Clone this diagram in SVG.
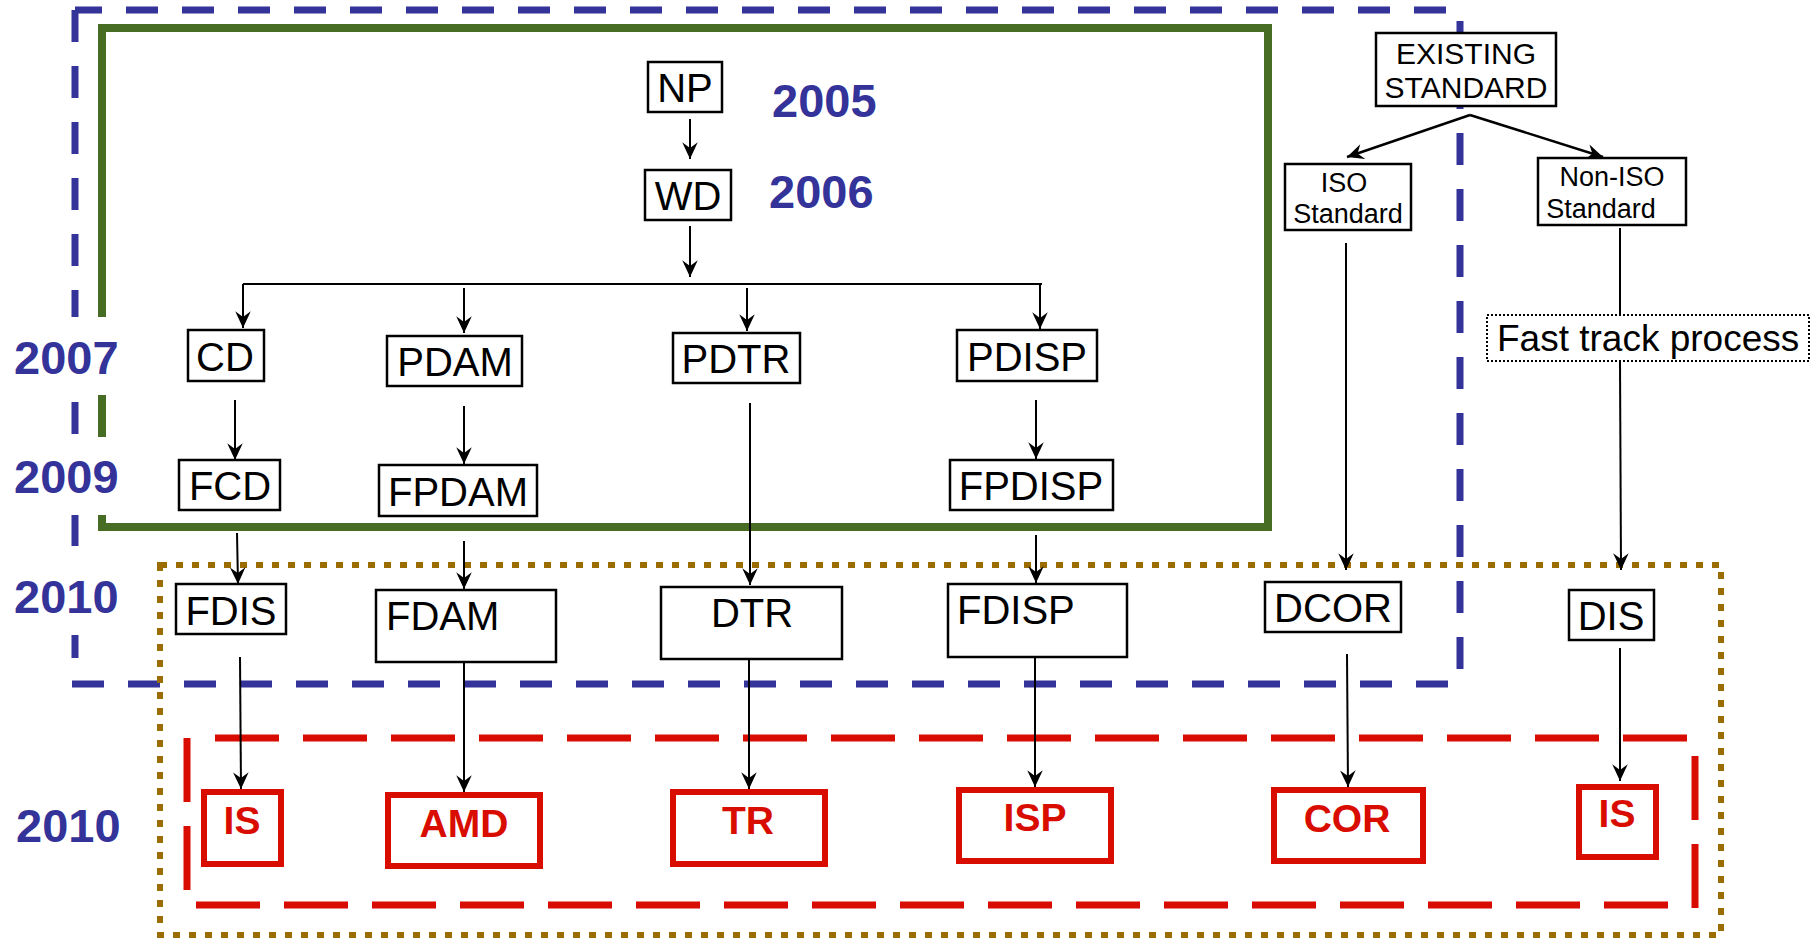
<svg xmlns="http://www.w3.org/2000/svg" width="1812" height="939" viewBox="0 0 1812 939">
<style>
  text { font-family: "Liberation Sans", Arial, sans-serif; }
  .box { fill: #ffffff; stroke: #000000; stroke-width: 2.5; }
  .rbox { fill: #ffffff; stroke: #d90c00; stroke-width: 6; }
  .t { font-size: 40px; fill: #000000; text-anchor: middle; }
  .tl { font-size: 40px; fill: #000000; }
  .te { font-size: 30px; fill: #000000; text-anchor: middle; }
  .tf { font-size: 37px; fill: #000000; }
  .ts { font-size: 27px; fill: #000000; text-anchor: middle; }
  .tr { font-size: 39px; font-weight: bold; fill: #d90c00; text-anchor: middle; }
  .yr { font-size: 47px; font-weight: bold; fill: #333399; }
  .ybg { fill: #ffffff; }
  .blue { stroke: #333399; stroke-width: 7; stroke-dasharray: 32 24; fill: none; }
  .red { stroke: #d90c00; stroke-width: 7; stroke-dasharray: 64 24; fill: none; }
  .c { stroke: #000000; stroke-width: 2; fill: none; marker-end: url(#ah); }
  .c2 { stroke: #000000; stroke-width: 2.5; fill: none; marker-end: url(#ah); }
  .cn { stroke: #000000; stroke-width: 2; fill: none; }
</style>
<defs>
  <marker id="ah" markerUnits="userSpaceOnUse" markerWidth="20" markerHeight="20" viewBox="-17 -9 18 18" refX="0" refY="0" orient="auto">
    <path d="M0,0 L-15,-7 L-10,0 L-15,7 Z" fill="#000000"/>
  </marker>
</defs>

<g id="frames">
  <line class="blue" x1="75" y1="10" x2="1447" y2="10" stroke-dashoffset="5"/>
  <line class="blue" x1="75" y1="10" x2="75" y2="660"/>
  <line class="blue" x1="1460" y1="21" x2="1460" y2="669"/>
  <line class="blue" x1="72" y1="684" x2="1450" y2="684"/>
  <rect x="102" y="28" width="1166" height="499" fill="none" stroke="#476c24" stroke-width="8"/>
  <rect x="160" y="565" width="1561" height="370" fill="none" stroke="#9b6c00" stroke-width="6" stroke-dasharray="7 9"/>
  <line class="red" x1="215" y1="738" x2="1688" y2="738"/>
  <line class="red" x1="1695" y1="756" x2="1695" y2="909"/>
  <line class="red" x1="196" y1="905" x2="1668" y2="905"/>
  <line class="red" x1="187" y1="738" x2="187" y2="890"/>
</g>

<g id="years">
  <rect class="ybg" x="10" y="317" width="112" height="78"/>
  <rect class="ybg" x="10" y="437" width="112" height="78"/>
  <rect class="ybg" x="10" y="557" width="112" height="78"/>
  <text class="yr" x="772" y="117">2005</text>
  <text class="yr" x="769" y="208">2006</text>
  <text class="yr" x="14" y="374">2007</text>
  <text class="yr" x="14" y="493">2009</text>
  <text class="yr" x="14" y="613">2010</text>
  <text class="yr" x="16" y="842">2010</text>
</g>

<g id="connectors">
  <line class="c" x1="690" y1="119" x2="690" y2="159"/>
  <line class="c" x1="690" y1="226" x2="690" y2="277"/>
  <line class="cn" x1="243" y1="284" x2="1042" y2="284" stroke-width="3"/>
  <line class="c" x1="243" y1="284" x2="243" y2="328"/>
  <line class="c" x1="464" y1="288" x2="464" y2="333"/>
  <line class="c" x1="747" y1="288" x2="747" y2="331"/>
  <line class="c" x1="1040" y1="284" x2="1040" y2="329"/>
  <line class="c" x1="235" y1="400" x2="235" y2="460"/>
  <line class="c" x1="464" y1="406" x2="464" y2="464"/>
  <line class="c" x1="1036" y1="400" x2="1036" y2="459"/>
  <line class="c" x1="750" y1="403" x2="750" y2="585"/>
  <line class="c" x1="237" y1="533" x2="238" y2="584"/>
  <line class="c" x1="464" y1="541" x2="464" y2="589"/>
  <line class="c" x1="1036" y1="535" x2="1036" y2="583"/>
  <line class="c" x1="240" y1="657" x2="241" y2="789"/>
  <line class="c" x1="464" y1="663" x2="464" y2="792"/>
  <line class="c" x1="749" y1="660" x2="749" y2="789"/>
  <line class="c" x1="1035" y1="658" x2="1035" y2="787"/>
  <line class="c" x1="1347" y1="654" x2="1348" y2="787"/>
  <line class="c" x1="1620" y1="648" x2="1620" y2="781"/>
  <line class="c2" x1="1470" y1="115" x2="1347" y2="157"/>
  <line class="c2" x1="1470" y1="115" x2="1603" y2="157"/>
  <line class="c" x1="1346" y1="243" x2="1346" y2="570"/>
  <line class="cn" x1="1620" y1="228" x2="1620" y2="314"/>
  <line class="c" x1="1620" y1="362" x2="1621" y2="570"/>
</g>

<g id="NP"><rect class="box" x="648" y="62" width="74" height="50"/><text class="t" x="685" y="102">NP</text></g>
<g id="WD"><rect class="box" x="645" y="170" width="86" height="50"/><text class="t" x="688" y="210">WD</text></g>
<g id="CD"><rect class="box" x="188" y="330" width="76" height="51"/><text class="t" x="225" y="371">CD</text></g>
<g id="PDAM"><rect class="box" x="387" y="336" width="135" height="50"/><text class="t" x="455" y="376">PDAM</text></g>
<g id="PDTR"><rect class="box" x="673" y="333" width="127" height="50"/><text class="t" x="736" y="373">PDTR</text></g>
<g id="PDISP"><rect class="box" x="957" y="330" width="140" height="51"/><text class="t" x="1027" y="371">PDISP</text></g>
<g id="FCD"><rect class="box" x="179" y="460" width="101" height="50"/><text class="t" x="230" y="500">FCD</text></g>
<g id="FPDAM"><rect class="box" x="379" y="465" width="158" height="51"/><text class="t" x="458" y="506">FPDAM</text></g>
<g id="FPDISP"><rect class="box" x="950" y="460" width="163" height="50"/><text class="t" x="1031" y="500">FPDISP</text></g>
<g id="FDIS"><rect class="box" x="176" y="584" width="110" height="50"/><text class="t" x="231" y="625">FDIS</text></g>
<g id="FDAM"><rect class="box" x="376" y="590" width="180" height="72"/><text class="tl" x="386" y="630">FDAM</text></g>
<g id="DTR"><rect class="box" x="661" y="587" width="181" height="72"/><text class="t" x="752" y="627">DTR</text></g>
<g id="FDISP"><rect class="box" x="948" y="584" width="179" height="73"/><text class="tl" x="957" y="624">FDISP</text></g>
<g id="DCOR"><rect class="box" x="1265" y="582" width="136" height="50"/><text class="t" x="1333" y="622">DCOR</text></g>
<g id="DIS"><rect class="box" x="1569" y="590" width="85" height="50"/><text class="t" x="1611" y="630">DIS</text></g>
<g id="EXISTING_STANDARD"><rect class="box" x="1376" y="33" width="180" height="73"/><text class="te" x="1466" y="64">EXISTING</text><text class="te" x="1466" y="98">STANDARD</text></g>
<g id="ISO_Standard"><rect class="box" x="1285" y="164" width="126" height="66"/><text class="ts" x="1344" y="192">ISO</text><text class="ts" x="1348" y="223">Standard</text></g>
<g id="NonISO_Standard"><rect class="box" x="1538" y="158" width="148" height="67"/><text class="ts" x="1612" y="186">Non-ISO</text><text class="ts" x="1601" y="218">Standard</text></g>
<g id="Fast_track"><rect x="1487" y="315" width="322" height="46" fill="#ffffff" stroke="#000000" stroke-width="2" stroke-dasharray="2 2"/><text class="tf" x="1497" y="351">Fast track process</text></g>
<g id="IS_1"><rect class="rbox" x="204" y="792" width="77" height="72"/><text class="tr" x="242" y="834">IS</text></g>
<g id="AMD"><rect class="rbox" x="388" y="795" width="152" height="71"/><text class="tr" x="464" y="837">AMD</text></g>
<g id="TR"><rect class="rbox" x="673" y="792" width="152" height="72"/><text class="tr" x="748" y="834">TR</text></g>
<g id="ISP"><rect class="rbox" x="959" y="790" width="152" height="71"/><text class="tr" x="1035" y="831">ISP</text></g>
<g id="COR"><rect class="rbox" x="1274" y="790" width="149" height="71"/><text class="tr" x="1347" y="832">COR</text></g>
<g id="IS_2"><rect class="rbox" x="1579" y="787" width="77" height="70"/><text class="tr" x="1617" y="827">IS</text></g>
</svg>
